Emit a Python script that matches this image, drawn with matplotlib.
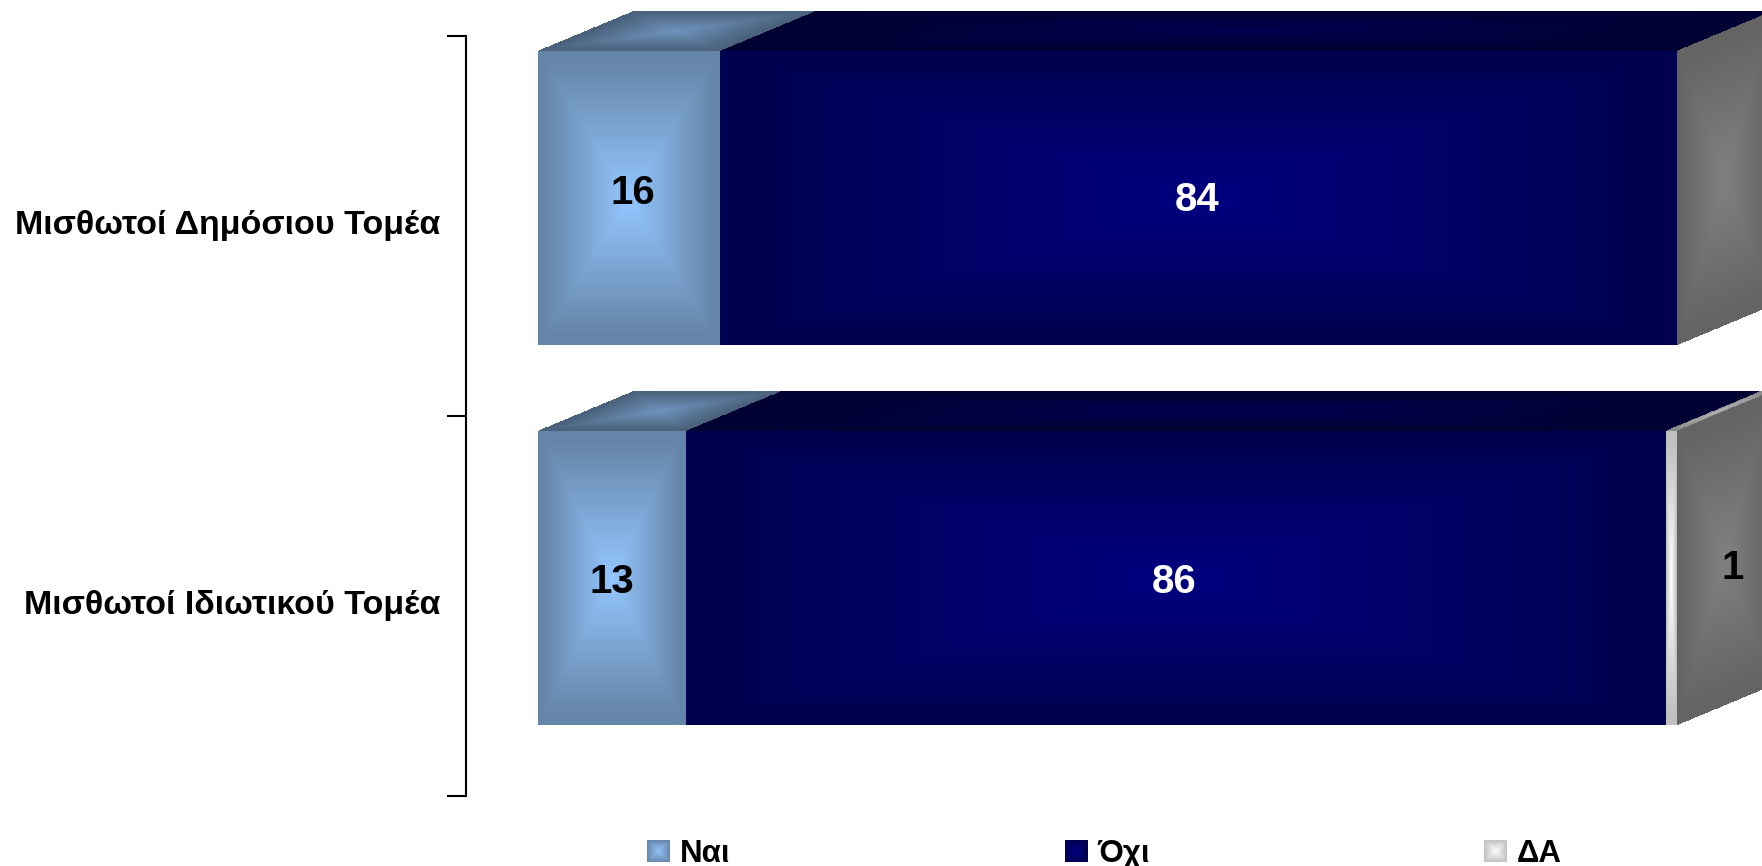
import numpy as np
import matplotlib
matplotlib.use("Agg")
import matplotlib.pyplot as plt
from matplotlib.patches import Rectangle, Patch
from matplotlib.legend_handler import HandlerBase
from matplotlib import font_manager as fm

categories = ["Μισθωτοί Δημόσιου Τομέα", "Μισθωτοί Ιδιωτικού Τομέα"]
series_names = ["Ναι", "Όχι", "ΔΑ"]
nai = [16, 13]
ochi = [84, 86]
da = [0, 1]

W, H = 1762, 866
PX_PER_UNIT = 11.39
PX_PER_BAND = 380.0
X0_PX, Y0_PX = 538.0, 226.0

FONT = ["Liberation Sans"]

CENTER = {"Ναι": "#94C6FF", "Όχι": "#000080", "ΔΑ": "#FFFFFF"}
EDGE = {"Ναι": "#6585A8", "Όχι": "#000050", "ΔΑ": "#C0C0C0"}
TOP_FACTOR = {"Ναι": 0.74, "Όχι": 0.62, "ΔΑ": 0.72}
SIDE_CENTER, SIDE_EDGE = "#808080", "#646464"


def rgb(c):
    return np.array(matplotlib.colors.to_rgb(c))


def face(ax, p00, p10, p01, c_center, c_edge, n=90):
    """Parallelogram with a rectangular path gradient; p00 corner, p10/p01 neighbours."""
    s = np.linspace(0, 1, n + 1)
    S, T = np.meshgrid(s, s)
    X = p00[0] + S * (p10[0] - p00[0]) + T * (p01[0] - p00[0])
    Y = p00[1] + S * (p10[1] - p00[1]) + T * (p01[1] - p00[1])
    m = (s[:-1] + s[1:]) / 2
    U, V = np.meshgrid(np.abs(2 * m - 1), np.abs(2 * m - 1))
    t = np.clip(np.maximum(U, V) / 0.92, 0, 1)[..., None]
    C = rgb(c_center) * (1 - t) + rgb(c_edge) * t
    ax.pcolormesh(X, Y, C, shading="flat", antialiased=False, linewidth=0, rasterized=True)


fig = plt.figure(figsize=(W / 100, H / 100), dpi=100, facecolor="white")
ax = fig.add_axes([0, 0, 1, 1])
ax.patch.set_visible(False)
ax.set_xlim(-X0_PX / PX_PER_UNIT, (W - X0_PX) / PX_PER_UNIT)
ax.set_ylim((H - Y0_PX) / PX_PER_BAND, -Y0_PX / PX_PER_BAND)

BAR_TOP, BAR_BOTTOM = -175 / PX_PER_BAND, 119 / PX_PER_BAND
DX, DY = 96 / PX_PER_UNIT, -40 / PX_PER_BAND

for i in range(len(categories)):
    top, bot = i + BAR_TOP, i + BAR_BOTTOM
    left = 0
    for name, vals in zip(series_names, (nai, ochi, da)):
        v = vals[i]
        if v > 0:
            right = left + v
            face(ax, (left, top), (right, top), (left, bot), CENTER[name], EDGE[name])
            f = TOP_FACTOR[name]
            face(ax, (left, top), (right, top), (left + DX, top + DY),
                 rgb(CENTER[name]) * f, rgb(EDGE[name]) * f)
            left = right
    # right-hand side wall
    face(ax, (left, top), (left + DX, top + DY), (left, bot), SIDE_CENTER, SIDE_EDGE)

# data labels
LABEL_OFFSETS_PX = {(0, 0): (4, 5), (0, 1): (-1, -2), (1, 0): (0, -4), (1, 1): (-2, -4), (1, 2): (61, 10)}
WHITE_ON = {"Όχι"}
for i in range(len(categories)):
    left = 0
    for j, (name, vals) in enumerate(zip(series_names, (nai, ochi, da))):
        v = vals[i]
        if v > 0:
            off = LABEL_OFFSETS_PX[(i, j)]
            ax.annotate(str(v), xy=(left + v / 2, i + (BAR_TOP + BAR_BOTTOM) / 2),
                        xytext=(off[0] * 0.72, off[1] * 0.72), textcoords="offset points",
                        ha="center", va="center", fontsize=29, fontweight="bold", family=FONT,
                        color="white" if name in WHITE_ON else "black")
            left += v

# bracket axis
for s in ("top", "right", "bottom"):
    ax.spines[s].set_visible(False)
sp = ax.spines["left"]
sp.set_position(("data", (466 - X0_PX) / PX_PER_UNIT))
sp.set_bounds(-0.5, 1.5)
sp.set_linewidth(1.5)
ax.set_xticks([])
ax.set_yticks([-0.5, 0.5, 1.5], labels=["", "", ""])
ax.tick_params(axis="y", which="major", direction="out", length=13.7, width=1.5, color="black")
LABEL_NUDGE = -4 / PX_PER_BAND
ax.set_yticks([LABEL_NUDGE, 1 + LABEL_NUDGE], labels=categories, minor=True)
ax.tick_params(axis="y", which="minor", length=0, pad=18.7)
for lab in ax.get_yticklabels(minor=True):
    lab.set_fontsize(24.5)
    lab.set_fontweight("bold")
    lab.set_family(FONT)


class GradientSwatch(HandlerBase):
    def create_artists(self, legend, orig, xd, yd, width, height, fontsize, trans):
        out = []
        name = orig.get_label()
        n = 24
        for k in range(n):
            t = 1 - k / n
            col = rgb(CENTER[name]) * (1 - t) + rgb(EDGE[name]) * t
            w, h = width * t, height * t
            out.append(Rectangle((-xd + (width - w) / 2, -yd + (height - h) / 2), w, h,
                                 facecolor=col, edgecolor="none", transform=trans))
        return out


handles = [Patch(label=n) for n in series_names]
FS = 22.5
leg = fig.legend(handles=handles, labels=series_names, ncol=3, loc="lower left",
                 bbox_to_anchor=(647 / W, -3 / H), frameon=False, borderpad=0, borderaxespad=0,
                 handler_map={Patch: GradientSwatch()},
                 prop=fm.FontProperties(family=FONT, weight="bold", size=FS),
                 handlelength=23 * 0.72 / FS, handleheight=23 * 0.72 / FS,
                 handletextpad=10 * 0.72 / FS, columnspacing=(417 - 23 - 10 - 50) * 0.72 / FS)

fig.savefig("out.png", dpi=100, facecolor="white")
